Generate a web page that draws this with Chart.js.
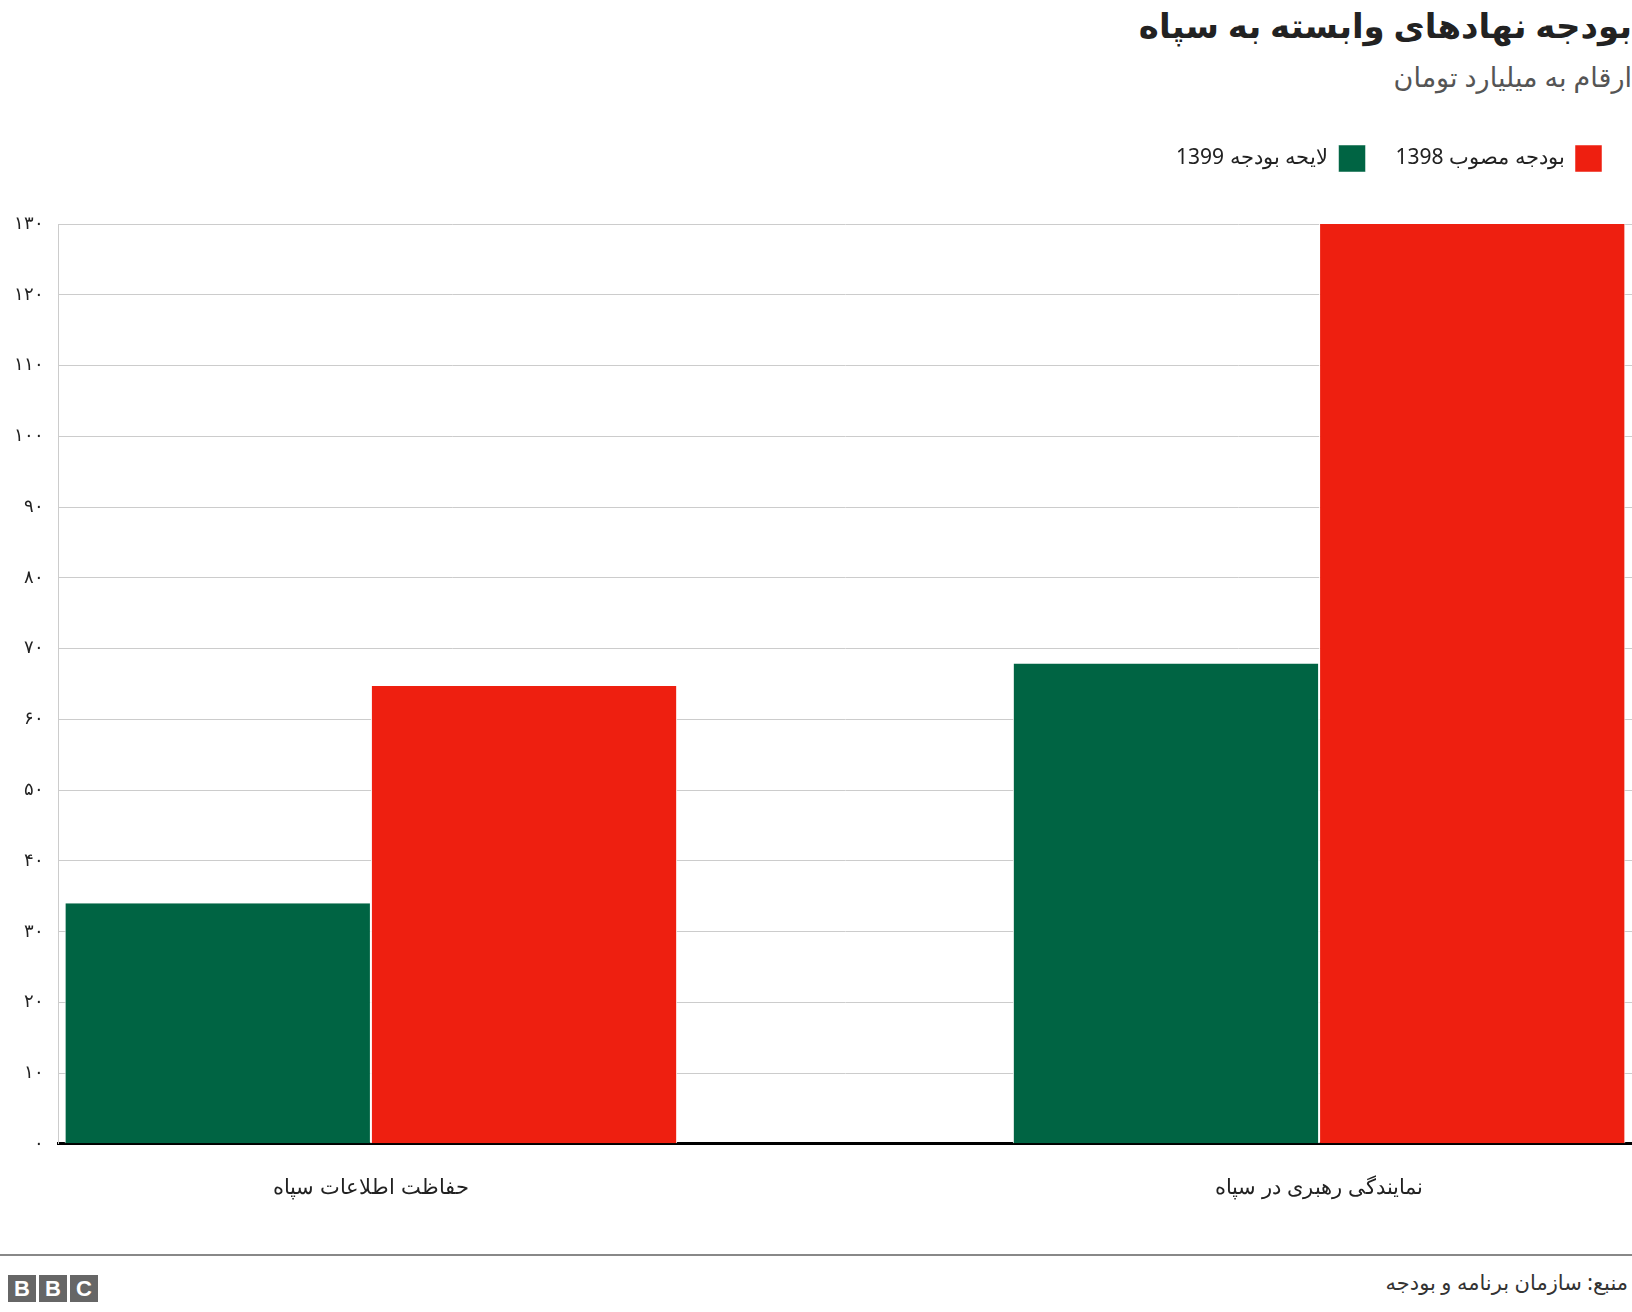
<!DOCTYPE html>
<html><head><meta charset="utf-8">
<script src="https://cdn.jsdelivr.net/npm/chart.js@4"></script>
<style>
body{margin:0;background:#fff;width:1632px;height:1312px;position:relative;font-family:"Noto Sans","DejaVu Sans",sans-serif;overflow:hidden}
#t{position:absolute;right:0;top:2px;font-size:34px;font-weight:bold;direction:rtl;color:#222}
#s{position:absolute;right:0;top:58px;font-size:27px;direction:rtl;color:#555}
#w{position:absolute;left:0;top:115px;width:1632px;height:1110px}
#line{position:absolute;left:0;right:0;top:1254px;height:2px;background:#888}
#src{position:absolute;right:4px;top:1268px;font-size:21px;direction:rtl;color:#333}
#bbc{position:absolute;left:8px;top:1275px;display:flex;gap:3px}
#bbc span{width:28px;height:27px;background:#666;color:#fff;font:bold 22px "Liberation Sans",sans-serif;display:flex;align-items:center;justify-content:center}
</style></head><body>
<div id="t">بودجه نهادهای وابسته به سپاه</div>
<div id="s">ارقام به میلیارد تومان</div>
<div id="w"><canvas id="c"></canvas></div>
<div id="line"></div>
<div id="src">منبع: سازمان برنامه و بودجه</div>
<div id="bbc"><span>B</span><span>B</span><span>C</span></div>
<script>
const categories=["حفاظت اطلاعات سپاه","نمایندگی رهبری در سپاه"];
const series1Label="لایحه بودجه 1399";
const series1=[34,67.9];
const series2Label="بودجه مصوب 1398";
const series2=[64.7,130];
const fa=n=>String(n).replace(/\d/g,d=>"۰۱۲۳۴۵۶۷۸۹"[d]);
const pts=a=>a.map((v,i)=>({x:i,y:v}));
const legendMargin={id:'lm',beforeInit(chart){const f=chart.legend.fit;chart.legend.fit=function(){f.call(this);this.height+=42;};}};
new Chart(document.getElementById('c'),{type:'bar',
data:{datasets:[
{label:series1Label,data:pts(series1),backgroundColor:'#006443',borderColor:'#fff',borderWidth:{left:1,right:1},borderSkipped:'bottom'},
{label:series2Label,data:pts(series2),backgroundColor:'#ee1f10',borderColor:'#fff',borderWidth:{left:1,right:1},borderSkipped:'bottom'}]},
plugins:[legendMargin],
options:{responsive:true,maintainAspectRatio:false,animation:false,
layout:{padding:{left:0,right:0,top:0,bottom:0}},
plugins:{tooltip:{enabled:false},legend:{align:'start',rtl:true,reverse:true,
labels:{boxWidth:27,boxHeight:27,color:'#222',font:{size:21,family:'"Noto Sans"'},padding:30}}},
datasets:{bar:{categoryPercentage:0.646,barPercentage:1}},
scales:{
x:{type:'linear',offset:false,min:-0.33,max:1.33,grid:{display:false},border:{color:'#000',width:3},
 afterBuildTicks:s=>{s.ticks=[{value:0},{value:1}];},
 ticks:{callback:v=>categories[v]??'',color:'#222',font:{size:21},padding:24,maxRotation:0}},
y:{min:0,max:130,ticks:{stepSize:10,callback:v=>fa(v),color:'#222',font:{size:18},padding:14},
grid:{color:'#ccc',drawTicks:false},border:{display:true,color:'#ccc'}}}}});
</script></body></html>
